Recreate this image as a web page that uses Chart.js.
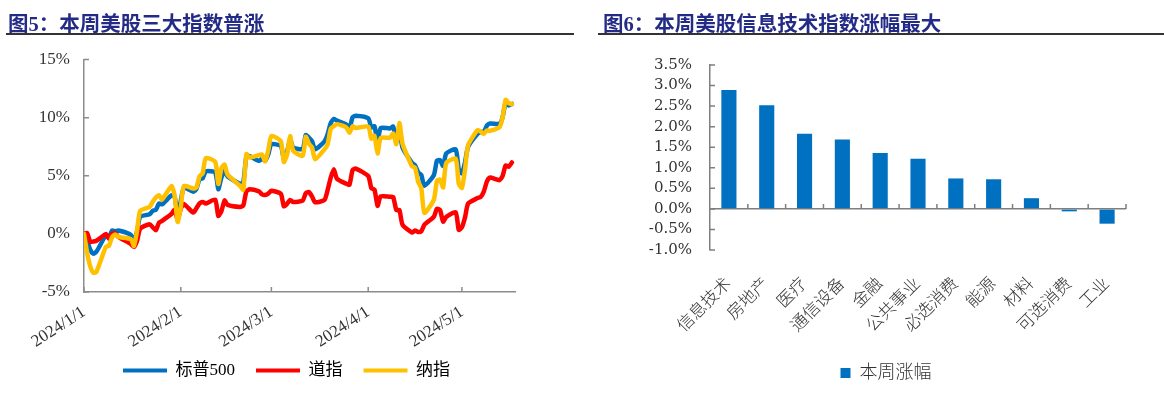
<!DOCTYPE html>
<html>
<head>
<meta charset="utf-8">
<script src="https://cdn.jsdelivr.net/npm/chart.js@4.4.1/dist/chart.umd.min.js"></script>
<style>
  body { margin: 0; width: 1164px; height: 415px; background: #fff; position: relative; overflow: hidden; }
  .box { position: absolute; top: 0; height: 415px; }
  .title { position: absolute; top: 7px; font: bold 20.5px "Liberation Serif", "Noto Sans CJK SC", serif; color: #232b86; white-space: nowrap; }
  .rule { position: absolute; top: 33px; height: 2px; background: #333; }
</style>
</head>
<body>
<div class="box" style="left:0;width:580px"><canvas id="idxChart" width="580" height="415"></canvas></div>
<div class="box" style="left:580px;width:584px"><canvas id="secChart" width="584" height="415"></canvas></div>
<div class="title" style="left:8px">图5：本周美股三大指数普涨</div>
<div class="rule" style="left:6px;width:568px"></div>
<div class="title" style="left:603px">图6：本周美股信息技术指数涨幅最大</div>
<div class="rule" style="left:598px;width:566px"></div>

<script>
// --- 图5 : 年初至今累计涨跌幅 (%) ---
const dates = [
  '2024-01-01',
  '2024-01-02','2024-01-03','2024-01-04','2024-01-05','2024-01-08','2024-01-09','2024-01-10','2024-01-11','2024-01-12',
  '2024-01-16','2024-01-17','2024-01-18','2024-01-19','2024-01-22','2024-01-23','2024-01-24','2024-01-25','2024-01-26',
  '2024-01-29','2024-01-30','2024-01-31',
  '2024-02-01','2024-02-02','2024-02-05','2024-02-06','2024-02-07','2024-02-08','2024-02-09','2024-02-12','2024-02-13',
  '2024-02-14','2024-02-15','2024-02-16','2024-02-20','2024-02-21','2024-02-22','2024-02-23','2024-02-26','2024-02-27',
  '2024-02-28','2024-02-29',
  '2024-03-01','2024-03-04','2024-03-05','2024-03-06','2024-03-07','2024-03-08','2024-03-11','2024-03-12','2024-03-13',
  '2024-03-14','2024-03-15','2024-03-18','2024-03-19','2024-03-20','2024-03-21','2024-03-22','2024-03-25','2024-03-26',
  '2024-03-27','2024-03-28',
  '2024-04-01','2024-04-02','2024-04-03','2024-04-04','2024-04-05','2024-04-08','2024-04-09','2024-04-10','2024-04-11',
  '2024-04-12','2024-04-15','2024-04-16','2024-04-17','2024-04-18','2024-04-19','2024-04-22','2024-04-23','2024-04-24',
  '2024-04-25','2024-04-26','2024-04-29','2024-04-30',
  '2024-05-01','2024-05-02','2024-05-03','2024-05-06','2024-05-07','2024-05-08','2024-05-09','2024-05-10','2024-05-13',
  '2024-05-14','2024-05-15','2024-05-16','2024-05-17'
];
const sp500 = [
  0,
  -0.57,-1.36,-1.70,-1.52,-0.13,-0.28,0.29,0.22,0.29,-0.08,-0.64,0.23,1.47,1.69,1.99,2.07,2.61,2.54,3.31,3.25,1.59,
  2.86,3.96,3.63,3.87,4.72,4.78,5.38,5.28,3.84,4.84,5.45,4.94,4.31,4.44,6.65,6.69,6.28,6.46,6.29,6.84,
  7.70,7.57,6.47,7.02,8.12,7.42,7.30,8.50,8.29,7.98,7.28,7.96,8.57,9.53,9.89,9.74,9.40,9.09,10.03,10.16,
  9.94,9.14,9.26,7.91,9.11,9.07,9.23,8.19,9.00,7.41,6.12,5.90,5.29,5.06,4.14,5.05,6.30,6.33,5.84,6.92,7.26,5.57,
  5.21,6.17,7.50,8.61,8.76,8.76,9.31,9.49,9.47,10.00,11.28,11.05,11.18
];
const dow = [
  0,
  0.07,-0.69,-0.66,-0.59,-0.02,-0.44,0.02,0.06,-0.26,-0.87,-1.12,-0.59,0.46,0.83,0.57,0.31,0.96,1.12,1.71,2.06,1.22,
  2.20,2.56,1.83,2.21,2.62,2.75,2.61,2.94,1.55,1.95,2.87,2.49,2.32,2.45,3.66,3.83,3.66,3.40,3.34,3.47,
  3.71,3.45,2.38,2.58,2.92,2.74,2.86,3.49,3.59,3.23,2.72,2.92,3.77,4.84,5.55,4.74,4.31,4.23,5.49,5.62,
  4.98,3.93,3.81,2.41,3.22,3.19,3.17,2.05,2.04,0.78,0.12,0.29,0.17,0.23,0.79,1.46,2.16,2.05,1.05,1.46,1.85,0.34,
  0.57,1.42,2.61,3.08,3.17,3.63,4.50,4.84,4.62,4.96,5.89,5.78,6.14
];
const nasdaq = [
  0,
  -1.63,-2.79,-3.34,-3.25,-1.12,-1.02,-0.28,-0.05,-0.26,-0.45,-1.04,0.30,1.99,2.32,2.76,3.13,3.33,2.96,4.11,3.32,1.02,
  2.33,4.11,3.90,3.98,4.96,5.21,6.52,6.20,4.29,5.65,5.96,5.09,4.13,3.79,6.86,6.56,6.77,6.82,6.24,7.20,
  8.42,7.97,6.18,6.80,8.41,7.15,6.71,8.35,7.77,7.44,6.41,7.27,7.70,9.05,9.26,9.44,9.15,8.69,9.25,9.11,
  9.23,8.19,8.43,6.91,8.24,8.28,8.63,7.72,9.53,7.75,5.82,5.69,4.48,3.93,1.80,2.93,4.56,4.67,4.00,6.10,6.47,4.30,
  3.96,5.53,7.63,8.91,8.80,8.60,8.89,8.86,9.17,9.99,11.53,11.24,11.15
];
const tickDates = ['2024-01-01','2024-02-01','2024-03-01','2024-04-01','2024-05-01'];
const tickLabels = ['2024/1/1','2024/2/1','2024/3/1','2024/4/1','2024/5/1'];

// --- 图6 : 本周行业涨幅 (%) ---
const sectors = ['信息技术','房地产','医疗','通信设备','金融','公共事业','必选消费','能源','材料','可选消费','工业'];
const weekChange = [2.89, 2.52, 1.83, 1.69, 1.36, 1.22, 0.74, 0.72, 0.26, -0.06, -0.36];

const serif = '"Liberation Serif", "Noto Sans CJK SC", serif';
const axisGrey = '#8c8c8c';
const textCol = '#333';

// jours depuis le 1er janvier
function dayOf(s) {
  const [y, m, d] = s.split('-').map(Number);
  return (Date.UTC(y, m - 1, d) - Date.UTC(2024, 0, 1)) / 86400000;
}
const tickDays = tickDates.map(dayOf);
const pts = vals => dates.map((d, i) => ({ x: dayOf(d), y: vals[i] }));

// décale la légende (centrée sous le graphe d'origine, pas sous le canvas)
const shiftLegend = (dx, dy) => ({
  id: 'shiftLegend',
  afterLayout(chart) {
    const l = chart.legend;
    l.left += dx; l.right += dx; l.top += dy; l.bottom += dy;
  }
});

// petites graduations tournées vers l'intérieur
const innerTicksIdx = {
  id: 'innerTicksIdx',
  beforeDatasetsDraw(chart) {
    const { ctx, chartArea, scales: { x, y } } = chart;
    ctx.save();
    ctx.strokeStyle = axisGrey;
    ctx.lineWidth = 1.5;
    ctx.beginPath();
    x.ticks.forEach(t => {
      const px = x.getPixelForValue(t.value);
      ctx.moveTo(px, chartArea.bottom); ctx.lineTo(px, chartArea.bottom - 5);
    });
    y.ticks.forEach(t => {
      const py = y.getPixelForValue(t.value);
      ctx.moveTo(chartArea.left, py); ctx.lineTo(chartArea.left + 5, py);
    });
    ctx.stroke();
    ctx.restore();
  }
};

const innerTicksSec = {
  id: 'innerTicksSec',
  beforeDatasetsDraw(chart) {
    const { ctx, chartArea, scales: { x, y } } = chart;
    const step = x.getPixelForValue(1) - x.getPixelForValue(0);
    const y0 = y.getPixelForValue(0);
    ctx.save();
    ctx.strokeStyle = '#7f7f7f';
    ctx.lineWidth = 1.5;
    ctx.beginPath();
    sectors.forEach((s, i) => {
      const px = x.getPixelForValue(i) + step / 2;
      ctx.moveTo(px, y0); ctx.lineTo(px, y0 - 5);
    });
    y.ticks.forEach(t => {
      const py = y.getPixelForValue(t.value);
      ctx.moveTo(chartArea.left, py); ctx.lineTo(chartArea.left + 5, py);
    });
    ctx.stroke();
    ctx.restore();
  }
};

const lineStyle = { borderWidth: 4.5, pointRadius: 0, tension: 0.2, borderJoinStyle: 'round', borderCapStyle: 'round' };

new Chart(document.getElementById('idxChart'), {
  type: 'line',
  data: {
    datasets: [
      Object.assign({ label: '标普500', data: pts(sp500), borderColor: '#0070C0', backgroundColor: '#0070C0', order: 3 }, lineStyle),
      Object.assign({ label: '道指', data: pts(dow), borderColor: '#FF0000', backgroundColor: '#FF0000', order: 2 }, lineStyle),
      Object.assign({ label: '纳指', data: pts(nasdaq), borderColor: '#FFC000', backgroundColor: '#FFC000', order: 1 }, lineStyle)
    ]
  },
  options: {
    responsive: false,
    animation: false,
    layout: { padding: { left: 0, right: 65, top: 59.5, bottom: 5 } },
    scales: {
      x: {
        type: 'linear', min: 0, max: 138,
        afterBuildTicks(s) { s.ticks = tickDays.map(v => ({ value: v })); },
        afterFit(s) { s.height = 70; },
        ticks: {
          autoSkip: false, minRotation: 33, maxRotation: 33, padding: 10,
          color: textCol, font: { family: serif, size: 17 },
          callback: (v, i) => tickLabels[i]
        },
        grid: { display: false, drawTicks: false },
        border: { color: axisGrey, width: 1.5 }
      },
      y: {
        min: -5, max: 15,
        afterFit(s) { s.width = 84; },
        ticks: { autoSkip: false, stepSize: 5, padding: 14, color: textCol, font: { family: serif, size: 17 }, callback: v => v + '%' },
        grid: { display: false, drawTicks: false },
        border: { color: axisGrey, width: 1.5 }
      }
    },
    plugins: {
      tooltip: { enabled: false },
      legend: {
        position: 'bottom',
        labels: {
          boxWidth: 44, boxHeight: 4, padding: 21, color: textCol, font: { family: serif, size: 17 },
          generateLabels: chart => chart.data.datasets.map((d, i) => ({
            text: d.label, fillStyle: d.borderColor, strokeStyle: d.borderColor, lineWidth: 0, datasetIndex: i, hidden: false
          }))
        }
      }
    }
  },
  plugins: [innerTicksIdx, shiftLegend(29, -21)]
});

new Chart(document.getElementById('secChart'), {
  type: 'bar',
  data: {
    labels: sectors,
    datasets: [{
      label: '本周涨幅', data: weekChange, backgroundColor: '#0070C0', borderWidth: 0,
      barPercentage: 0.4, categoryPercentage: 1
    }]
  },
  options: {
    responsive: false,
    animation: false,
    layout: { padding: { left: 28, right: 38, top: 65, bottom: 23 } },
    scales: {
      x: {
        offset: true,
        afterFit(s) { s.height = 104; },
        ticks: { autoSkip: false, minRotation: 45, maxRotation: 45, padding: 24, color: textCol, font: { family: serif, size: 17, weight: 300 } },
        grid: { display: false, drawTicks: false },
        border: { display: false }
      },
      y: {
        min: -1, max: 3.5,
        afterFit(s) { s.width = 102; },
        ticks: { autoSkip: false, stepSize: 0.5, padding: 18, color: textCol, font: { family: '"DejaVu Serif", serif', size: 15 }, callback: v => v.toFixed(1) + '%' },
        grid: {
          drawTicks: false, lineWidth: 1.5,
          color: c => (c.tick && Math.abs(c.tick.value) < 1e-9) ? '#7f7f7f' : 'rgba(0,0,0,0)'
        },
        border: { color: '#7f7f7f', width: 1.5 }
      }
    },
    plugins: {
      tooltip: { enabled: false },
      legend: {
        position: 'bottom',
        labels: { boxWidth: 10, boxHeight: 10, padding: 10, color: textCol, font: { family: serif, size: 18, weight: 300 } }
      }
    }
  },
  plugins: [innerTicksSec, shiftLegend(19, 0)]
});
</script>
</body>
</html>
